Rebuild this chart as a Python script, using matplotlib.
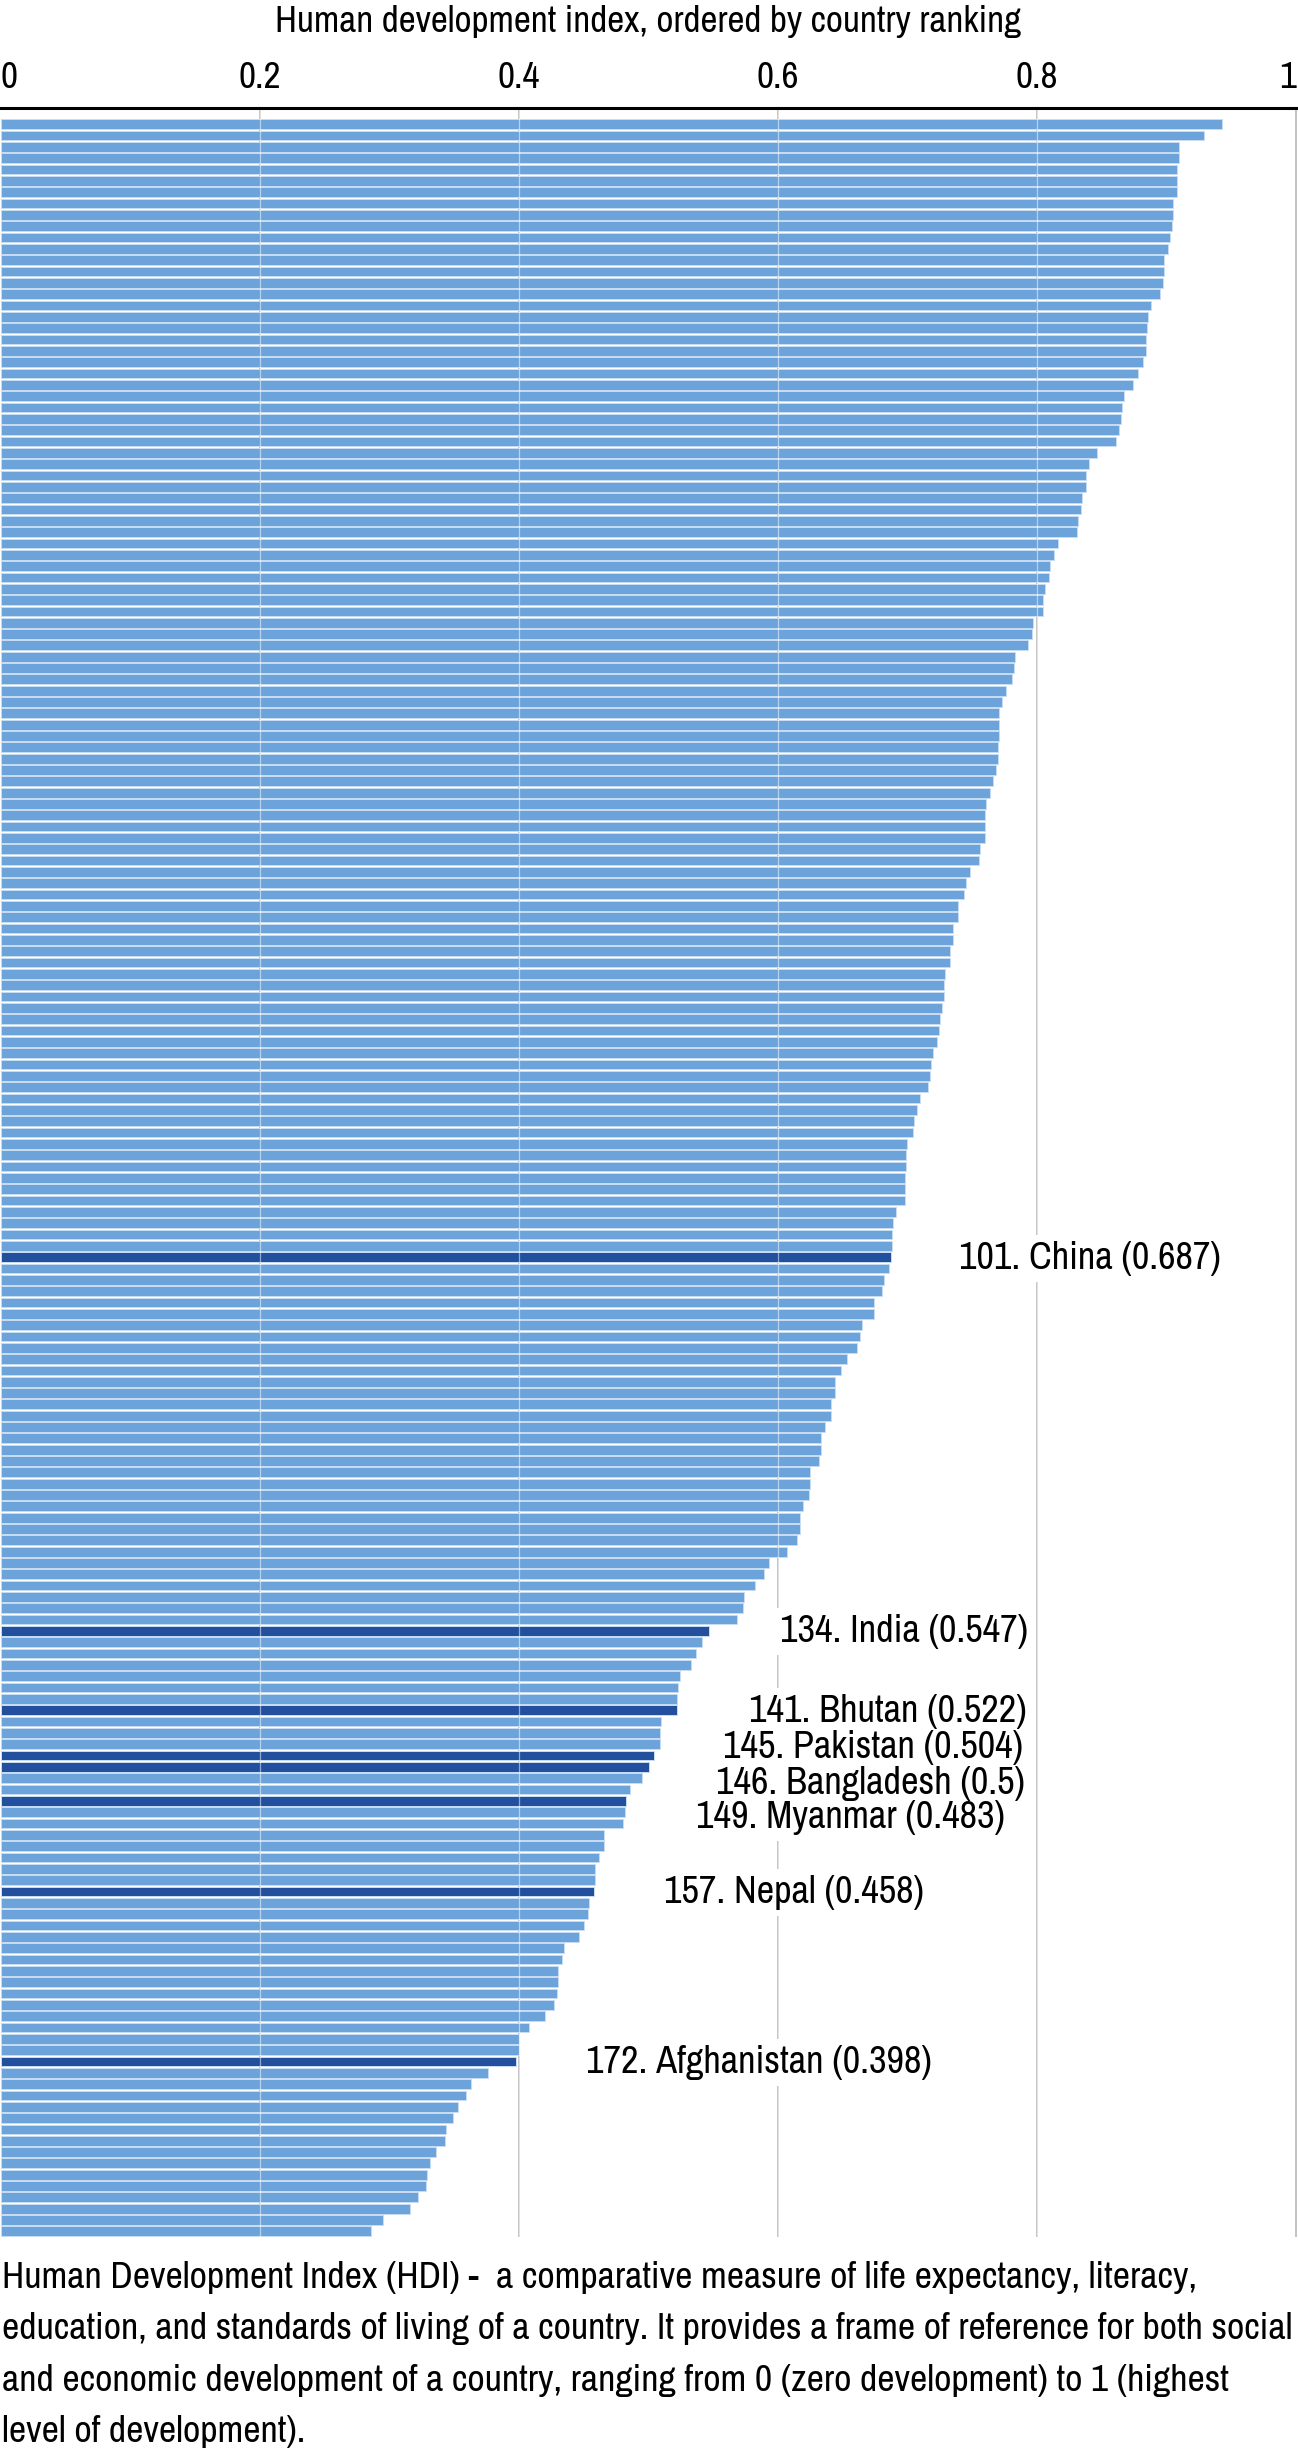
import matplotlib
matplotlib.use('Agg')
import matplotlib.pyplot as plt
from matplotlib import font_manager as fm
from matplotlib.patches import Rectangle

# HDI 2011, all 187 countries in rank order
hdi = [0.943, 0.929, 0.910, 0.910, 0.908, 0.908, 0.908, 0.905, 0.905, 0.904,
       0.903, 0.901, 0.898, 0.898, 0.897, 0.895, 0.888, 0.886, 0.885, 0.884,
       0.884, 0.882, 0.878, 0.874, 0.867, 0.866, 0.865, 0.863, 0.861, 0.846,
       0.840, 0.838, 0.838, 0.835, 0.834, 0.832, 0.831, 0.816, 0.813, 0.810,
       0.809, 0.806, 0.805, 0.805, 0.797, 0.796, 0.793, 0.783, 0.782, 0.781,
       0.776, 0.773, 0.771, 0.771, 0.771, 0.770, 0.770, 0.768, 0.766, 0.764,
       0.761, 0.760, 0.760, 0.760, 0.756, 0.755, 0.748, 0.745, 0.744, 0.739,
       0.739, 0.735, 0.735, 0.733, 0.733, 0.729, 0.728, 0.728, 0.727, 0.725,
       0.724, 0.723, 0.720, 0.718, 0.717, 0.716, 0.710, 0.707, 0.705, 0.704,
       0.700, 0.699, 0.699, 0.698, 0.698, 0.698, 0.691, 0.689, 0.688, 0.688,
       0.687, 0.686, 0.682, 0.680, 0.674, 0.674, 0.665, 0.663, 0.661, 0.653,
       0.649, 0.644, 0.644, 0.641, 0.641, 0.636, 0.633, 0.633, 0.632, 0.625,
       0.625, 0.624, 0.619, 0.617, 0.617, 0.615, 0.607, 0.593, 0.589, 0.582,
       0.574, 0.573, 0.568, 0.547, 0.541, 0.537, 0.533, 0.524, 0.523, 0.522,
       0.522, 0.510, 0.509, 0.509, 0.504, 0.500, 0.495, 0.486, 0.483, 0.482,
       0.480, 0.466, 0.466, 0.462, 0.459, 0.459, 0.458, 0.454, 0.453, 0.450,
       0.446, 0.435, 0.433, 0.430, 0.430, 0.429, 0.427, 0.420, 0.408, 0.400,
       0.400, 0.398, 0.376, 0.363, 0.359, 0.353, 0.349, 0.344, 0.343, 0.336,
       0.331, 0.329, 0.328, 0.322, 0.316, 0.295, 0.286]

hl_rank = [101, 134, 141, 145, 146, 149, 157, 172]
hl_name = ['China', 'India', 'Bhutan', 'Pakistan', 'Bangladesh', 'Myanmar', 'Nepal', 'Afghanistan']

xticks = [0, 0.2, 0.4, 0.6, 0.8, 1]
xtick_labels = ['0', '0.2', '0.4', '0.6', '0.8', '1']

title = 'Human development index, ordered by country ranking'
footer = ['Human Development Index (HDI) -  a comparative measure of life expectancy, literacy,',
          'education, and standards of living of a country. It provides a frame of reference for both social',
          'and economic development of a country, ranging from 0 (zero development) to 1 (highest',
          'level of development).']

# label placement: right edge (x, in index units) and shift in bars (dy)
label_x = {101: 0.942, 134: 0.793, 141: 0.792, 145: 0.789, 146: 0.791, 149: 0.775, 157: 0.713, 172: 0.719}
label_dy = {101: -0.18, 134: -0.2, 141: -0.2, 145: -1.0, 146: 1.2, 149: 1.2, 157: -0.18, 172: -0.17}

# narrow gothic font, with fallbacks
fp = None
for want in ['Archivo Narrow', 'Encode Sans Condensed', 'PT Sans Narrow', 'Roboto Condensed']:
    hits = [f for f in fm.fontManager.ttflist if f.name == want and f.style == 'normal'
            and f.weight in (400, 'normal', 'regular')]
    if hits:
        fp = fm.FontProperties(fname=hits[0].fname)
        break
if fp is None:
    fp = fm.FontProperties(family='DejaVu Sans', stretch='condensed')

W, H = 1298, 2450
fig = plt.figure(figsize=(W / 100, H / 100), dpi=100)
fig.patch.set_facecolor('white')
ax = fig.add_axes([1 / W, 1 - 2237 / H, 1295 / W, (2237 - 107.5) / H])

n = len(hdi)
ypos = list(range(n))
colors = ['#224f9e' if (i + 1) in hl_rank else '#6ca3da' for i in ypos]
ax.barh(ypos, hdi, height=0.86, color=colors, edgecolor='#c9ddf2', linewidth=0.7, zorder=1)

ax.set_xlim(0, 1)
ax.set_ylim(n - 0.5, -1.48)

# grid: gray behind the bars, faint white over them
ax.vlines(xticks[1:], n - 0.5, -1.48, color='#b3b3b3', linewidth=1.1, zorder=0.5, clip_on=False)
ax.vlines(xticks[1:-1], n - 0.5, -1.48, color='white', linewidth=0.9, alpha=0.5, zorder=2)

for s in ['left', 'right', 'bottom']:
    ax.spines[s].set_visible(False)
ax.spines['top'].set_linewidth(2.2)
ax.spines['top'].set_color('black')
ax.spines['top'].set_zorder(6)

ax.set_yticks([])
ax.xaxis.tick_top()
ax.set_xticks(xticks)
ax.set_xticklabels(xtick_labels)
ax.tick_params(axis='x', length=0, pad=14.4)
ticks = ax.xaxis.get_major_ticks()
for k, t in enumerate(ticks):
    lab = t.label2
    lab.set_fontproperties(fp)
    lab.set_fontsize(26.8)
    lab.set_va('baseline')
    if k == 0:
        lab.set_ha('left')
    elif k == len(ticks) - 1:
        lab.set_ha('right')

# highlighted countries
labels = []
for r, name in zip(hl_rank, hl_name):
    v = hdi[r - 1]
    txt = '%d. %s (%s)' % (r, name, ('%.3f' % v).rstrip('0'))
    y = r - 1 + label_dy[r] + 1.2
    labels.append(ax.text(label_x[r], y, txt, ha='right', va='baseline', fontproperties=fp,
                          fontsize=27.6, color='black', zorder=5))

fig.text(0.4992, 1 - 32 / H, title, ha='center', va='baseline', fontproperties=fp, fontsize=26.8)

for k, line in enumerate(footer):
    fig.text(2 / W, 1 - (2288 + 51.3 * k) / H, line, ha='left', va='baseline',
             fontproperties=fp, fontsize=27.2)

# white patches behind the labels so the grid lines stop there
fig.canvas.draw()
rend = fig.canvas.get_renderer()
inv = ax.transData.inverted()
for t in labels:
    bb = t.get_window_extent(rend)
    (x0, y0), (x1, y1) = inv.transform([[bb.x0 - 5, bb.y0 - 6], [bb.x1 + 5, bb.y1 + 6]])
    ax.add_patch(Rectangle((x0, min(y0, y1)), x1 - x0, abs(y1 - y0), facecolor='white',
                           edgecolor='none', zorder=4))

fig.savefig('out.png', dpi=100)
